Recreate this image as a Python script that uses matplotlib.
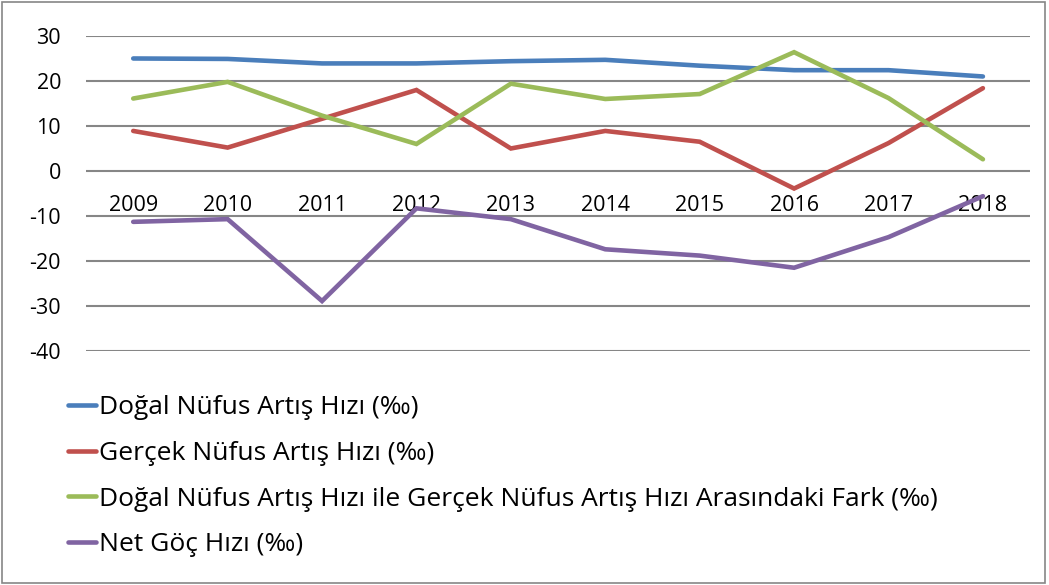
import numpy as np
from matplotlib import pyplot as plt
from matplotlib.patches import Rectangle

plt.rcParams['font.family'] = ['Open Sans', 'DejaVu Sans']
plt.rcParams['axes.unicode_minus'] = False

years = ['2009', '2010', '2011', '2012', '2013', '2014', '2015', '2016', '2017', '2018']
dogal = [25.0, 24.9, 23.9, 23.9, 24.4, 24.7, 23.4, 22.4, 22.4, 21.0]
gercek = [8.9, 5.2, 11.6, 18.0, 5.0, 8.9, 6.5, -3.9, 6.2, 18.4]
fark = [16.1, 19.8, 12.3, 6.0, 19.4, 16.0, 17.1, 26.4, 16.2, 2.6]
net_goc = [-11.3, -10.7, -28.9, -8.3, -10.7, -17.4, -18.8, -21.5, -14.7, -5.6]

labels = ['Doğal Nüfus Artış Hızı (‰)',
          'Gerçek Nüfus Artış Hızı (‰)',
          'Doğal Nüfus Artış Hızı ile Gerçek Nüfus Artış Hızı Arasındaki Fark (‰)',
          'Net Göç Hızı (‰)']
colors = ['#4a7ebb', '#c0504d', '#9bbb59', '#8064a2']

fig = plt.figure(figsize=(10.49, 5.85), dpi=100)
ax = fig.add_axes([0.082, 0.4, 0.9, 0.5385])

x = np.arange(len(years))
for vals, lab, c in zip([dogal, gercek, fark, net_goc], labels, colors):
    ax.plot(x, vals, color=c, lw=3.3, label=lab, solid_capstyle='round', solid_joinstyle='miter')

ax.set_xlim(-0.5, len(years) - 0.5)
ax.set_ylim(-40, 30)
ax.set_yticks(range(-40, 31, 10))
ax.yaxis.grid(True, color='#868686', lw=1.5)
ax.set_axisbelow(True)
for s in ax.spines.values():
    s.set_visible(False)
ax.spines['bottom'].set_position(('data', 0))
ax.set_xticks(x)
ax.set_xticklabels(years)
ax.tick_params(axis='x', length=0, pad=17, labelsize=15.5)
ax.tick_params(axis='y', length=0, pad=18, labelsize=15.5)

fig.legend(loc='upper left', bbox_to_anchor=(0.055, 0.342), frameon=False,
           fontsize=19, handlelength=1.05, handletextpad=0.1, labelspacing=0.78,
           borderaxespad=0)

fig.patches.append(Rectangle((0.002, 0.004), 0.994, 0.992, transform=fig.transFigure,
                             fill=False, edgecolor='#868686', lw=1.2))

fig.savefig('out.png', dpi=100)
